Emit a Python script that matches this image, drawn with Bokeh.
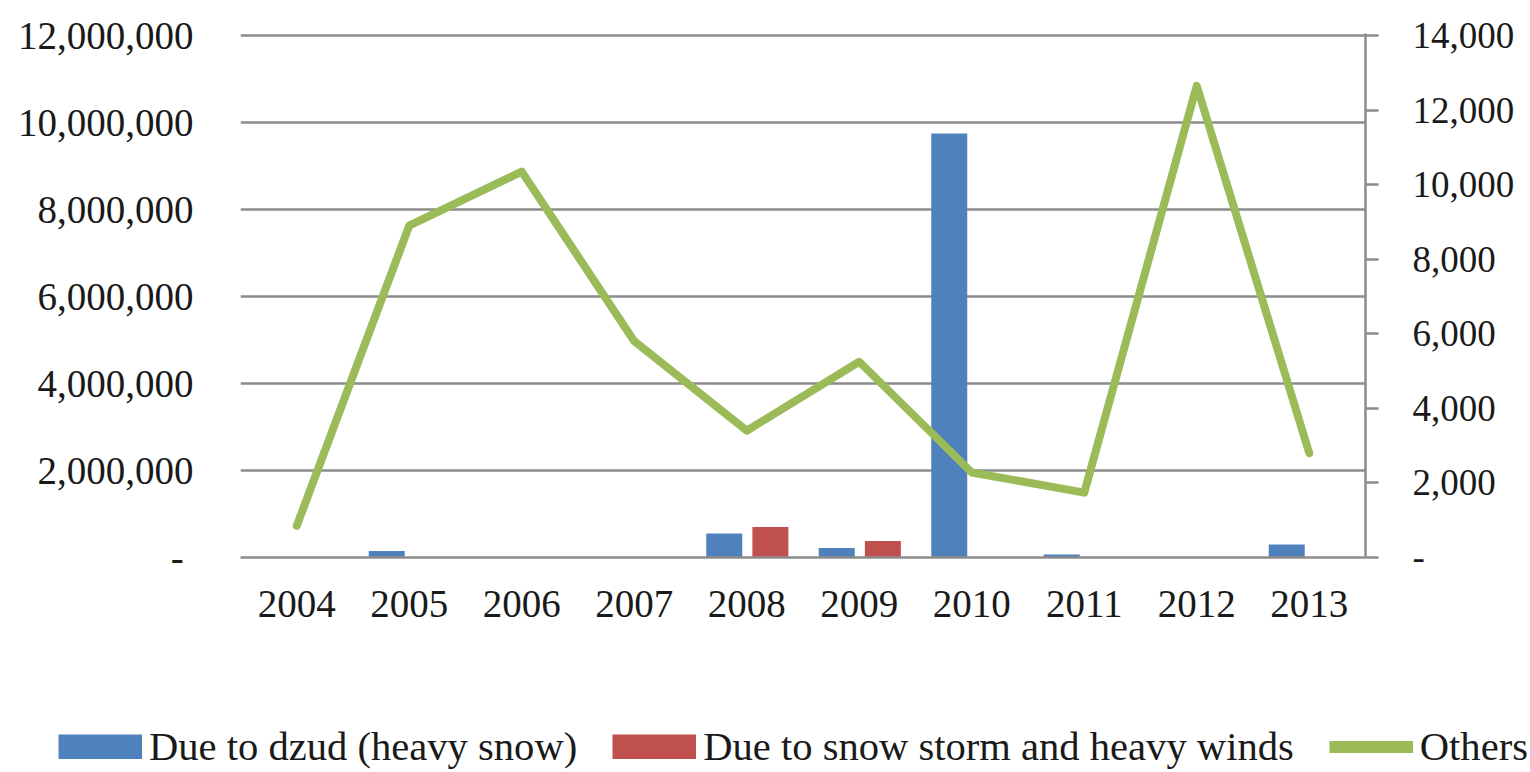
from bokeh.plotting import figure
from bokeh.models import (Range1d, LinearAxis, FixedTicker, NumeralTickFormatter,
                          Legend, LegendItem, FactorRange, ColumnDataSource)
from bokeh.transform import dodge
from bokeh.embed import file_html
from bokeh.resources import INLINE

years = ["2004", "2005", "2006", "2007", "2008", "2009", "2010", "2011", "2012", "2013"]
dzud = [0, 150000, 0, 0, 550000, 220000, 9750000, 70000, 0, 300000]
storm = [0, 0, 0, 0, 700000, 380000, 0, 0, 0, 0]
others = [850, 8900, 10350, 5800, 3400, 5250, 2280, 1740, 12650, 2800]
series_names = ["Due to dzud (heavy snow)", "Due to snow storm and heavy winds", "Others"]

left_ticks = [0, 2000000, 4000000, 6000000, 8000000, 10000000, 12000000]
right_ticks = [0, 2000, 4000, 6000, 8000, 10000, 12000, 14000]

FONT = "Liberation Serif"
GRID = "#8c8c8c"
BLUE, RED, GREEN = "#4F81BD", "#C0504D", "#9BBB59"
PAD = 524 / 522  # small headroom so the top gridline is drawn inside the frame

src = ColumnDataSource(dict(year=years, dzud=dzud, storm=storm, others=others))

p = figure(width=1530, height=680, x_range=FactorRange(*years),
           y_range=Range1d(0, left_ticks[-1] * PAD), output_backend="svg",
           toolbar_location=None, tools="",
           min_border_left=240, min_border_right=165,
           min_border_top=33, min_border_bottom=123)
p.extra_y_ranges = {"right": Range1d(0, right_ticks[-1] * PAD)}
p.outline_line_color = None
p.background_fill_color = "white"
p.border_fill_color = "white"

p.vbar(x=dodge("year", -0.2, range=p.x_range), top="dzud", width=0.32,
       source=src, fill_color=BLUE, line_color=None)
p.vbar(x=dodge("year", 0.21, range=p.x_range), top="storm", width=0.32,
       source=src, fill_color=RED, line_color=None)
p.line(x="year", y="others", source=src, y_range_name="right",
       line_width=8, line_color=GREEN, line_join="round", line_cap="round")

# grid
p.xgrid.visible = False
p.ygrid.grid_line_color = GRID
p.ygrid.grid_line_width = 2.5
p.ygrid.ticker = FixedTicker(ticks=left_ticks)

# left axis
la = p.yaxis[0]
la.ticker = FixedTicker(ticks=left_ticks)
la.formatter = NumeralTickFormatter(format="0,0")
la.major_label_overrides = {0: "-\u00a0"}
la.axis_line_color = None
la.major_tick_line_color = None
la.minor_tick_line_color = None
la.major_tick_out = 0
la.major_tick_in = 0
la.major_label_standoff = 47
la.major_label_text_font = FONT
la.major_label_text_font_size = "39px"
la.major_label_text_color = "#1a1a1a"

# right axis
ra = LinearAxis(y_range_name="right", ticker=FixedTicker(ticks=right_ticks),
                formatter=NumeralTickFormatter(format="0,0"))
ra.major_label_overrides = {0: "-"}
ra.axis_line_color = GRID
ra.axis_line_width = 2.5
ra.major_tick_line_color = GRID
ra.major_tick_line_width = 2.5
ra.major_tick_out = 13
ra.major_tick_in = 0
ra.minor_tick_line_color = None
ra.major_label_standoff = 34
ra.major_label_text_font = FONT
ra.major_label_text_font_size = "37px"
ra.major_label_text_color = "#1a1a1a"
p.add_layout(ra, "right")

# bottom axis
xa = p.xaxis[0]
xa.axis_line_color = GRID
xa.axis_line_width = 2.5
xa.major_tick_line_color = None
xa.major_tick_out = 0
xa.major_tick_in = 0
xa.minor_tick_line_color = None
xa.major_label_standoff = 33
xa.major_label_text_font = FONT
xa.major_label_text_font_size = "39px"
xa.major_label_text_color = "#1a1a1a"

# legend strip: a separate root figure under the chart, holding only the legend
lg = figure(width=1530, height=92, output_backend="svg", toolbar_location=None, tools="",
            x_axis_location=None, y_axis_location=None,
            min_border_left=0, min_border_right=0, min_border_top=0, min_border_bottom=0,
            x_range=Range1d(0, 1), y_range=Range1d(0, 1))
lg.outline_line_color = None
lg.grid.visible = False
off = ColumnDataSource(dict(x=[-5, -6], y=[-5, -6]))  # outside the visible range
r1 = lg.line(x="x", y="y", source=off, line_width=25, line_color=BLUE, line_cap="butt")
r2 = lg.line(x="x", y="y", source=off, line_width=25, line_color=RED, line_cap="butt")
r3 = lg.line(x="x", y="y", source=off, line_width=12, line_color=GREEN, line_cap="butt")

legend = Legend(items=[
    LegendItem(label=series_names[0], renderers=[r1]),
    LegendItem(label=series_names[1], renderers=[r2]),
    LegendItem(label=series_names[2], renderers=[r3]),
], location=(58, 2), orientation="horizontal",
    glyph_width=84, glyph_height=25, label_standoff=7, spacing=35,
    padding=0, margin=0, border_line_color=None, background_fill_alpha=0,
    label_text_font=FONT, label_text_font_size="40.6px", label_text_color="#1a1a1a")
lg.add_layout(legend, "center")

open("out.html", "w").write(file_html([p, lg], INLINE))
